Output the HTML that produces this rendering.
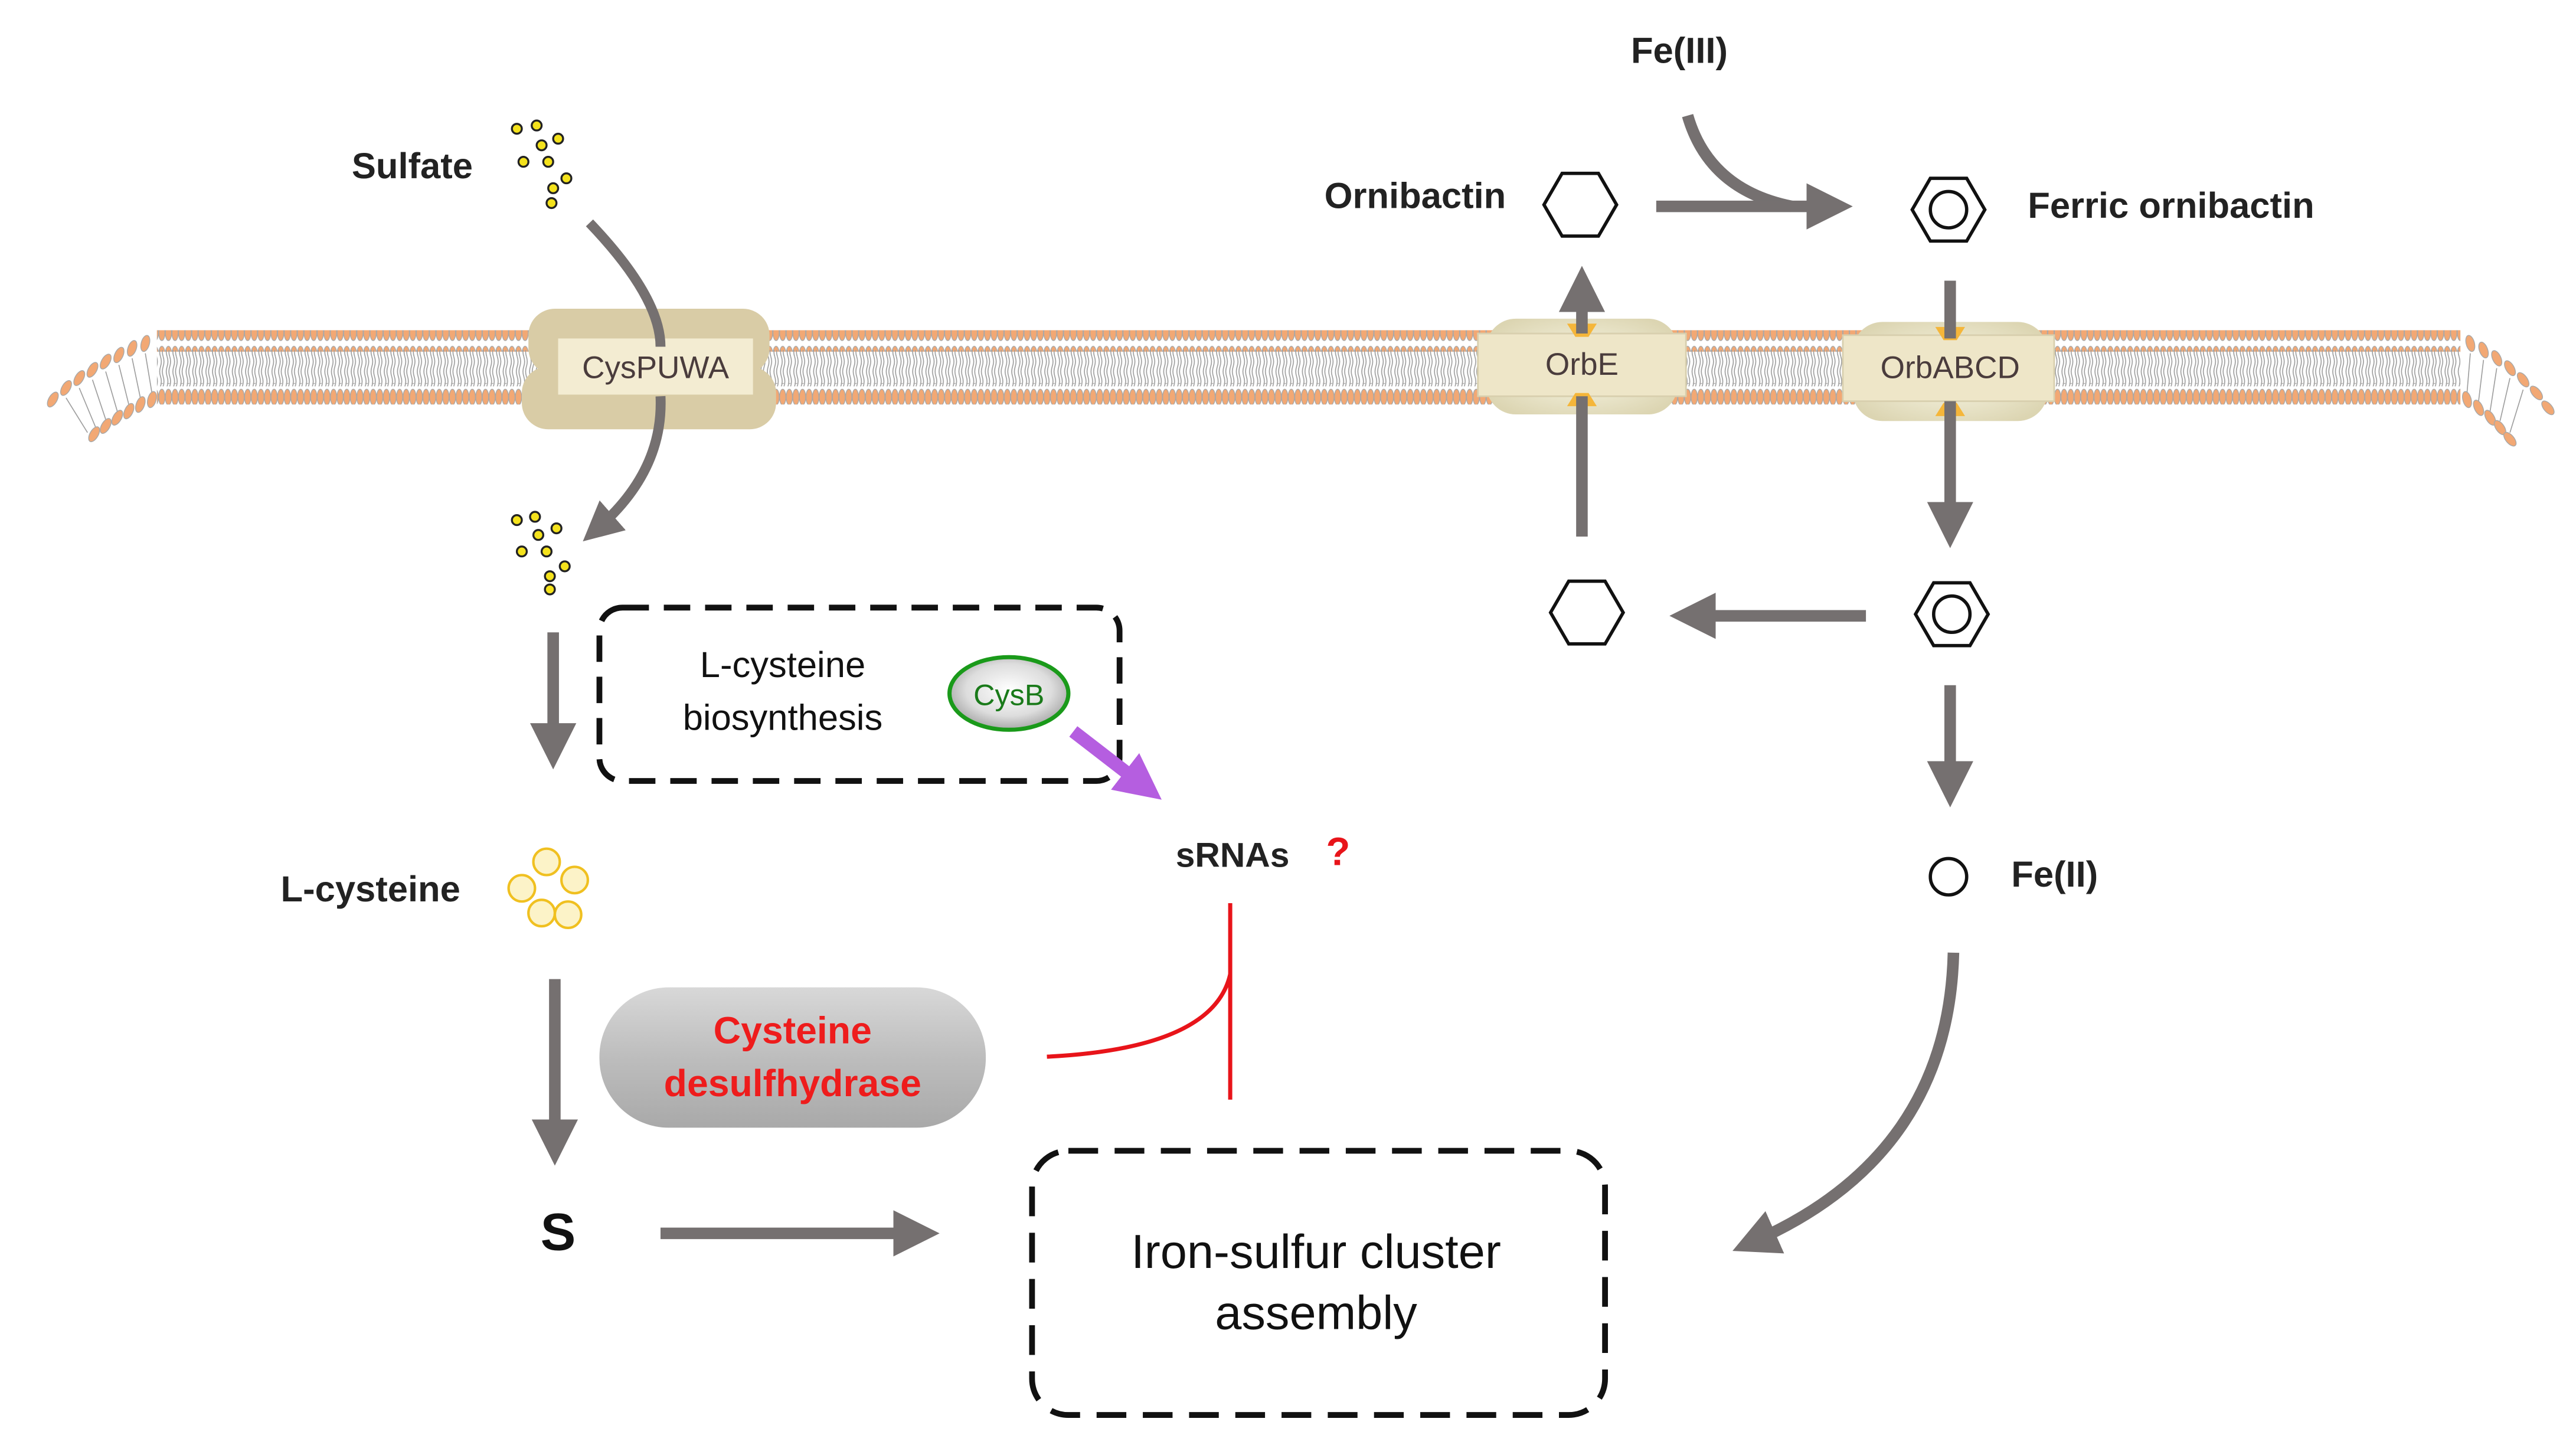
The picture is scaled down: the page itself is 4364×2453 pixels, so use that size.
<!DOCTYPE html>
<html><head><meta charset="utf-8"><style>html,body{margin:0;padding:0;background:#fff}svg{display:block}</style></head>
<body>
<svg width="4364" height="2453" viewBox="0 0 1560 877" preserveAspectRatio="none" xmlns="http://www.w3.org/2000/svg" font-family="Liberation Sans, sans-serif">
<defs>
<pattern id="heads" width="4" height="13" patternUnits="userSpaceOnUse">
<ellipse cx="2" cy="6.5" rx="1.9" ry="4.8" fill="#f2a874" stroke="#a8a8a8" stroke-width="0.5"/>
</pattern>
<pattern id="tails" width="4" height="24" patternUnits="userSpaceOnUse">
<path d="M1.2 0 q1 3 0 6 q-1 3 0 6 q1 3 0 6 q-1 3 0 6 M2.8 0 q1 3 0 6 q-1 3 0 6 q1 3 0 6 q-1 3 0 6" fill="none" stroke="#9f9f9f" stroke-width="0.6"/>
</pattern>
<linearGradient id="gray" x1="0" y1="0" x2="0" y2="1"><stop offset="0" stop-color="#d8d8d8"/><stop offset="0.5" stop-color="#bdbdbd"/><stop offset="1" stop-color="#a9a9a9"/></linearGradient>
<radialGradient id="cysb" cx="0.5" cy="0.45" r="0.6"><stop offset="0" stop-color="#fff"/><stop offset="0.6" stop-color="#ddd"/><stop offset="1" stop-color="#9a9a9a"/></radialGradient>
<radialGradient id="prot" cx="0.5" cy="0.5" r="0.6"><stop offset="0" stop-color="#fbfaea"/><stop offset="1" stop-color="#dcd5b2"/></radialGradient>
<marker id="ah" markerWidth="4" markerHeight="4" refX="2" refY="2" orient="auto" markerUnits="strokeWidth"><path d="M0,0 L4,2 L0,4 z" fill="#757070"/></marker>
<marker id="ap" markerWidth="3.5" markerHeight="3.5" refX="2" refY="1.75" orient="auto" markerUnits="strokeWidth"><path d="M0,0 L3.5,1.75 L0,3.5 z" fill="#b55ee0"/></marker>
</defs>

<!-- membrane -->
<rect x="95" y="200" width="1395" height="13" fill="url(#heads)"/>
<rect x="95" y="212" width="1395" height="22" fill="url(#tails)"/>
<rect x="95" y="232" width="1395" height="13" fill="url(#heads)"/>
<path d="M95 212 L30 245 L55 262 L95 234 Z" fill="#fff" stroke="none"/>
<g stroke="#9f9f9f" stroke-width="0.6">
<line x1="88" y1="214" x2="92" y2="238"/><line x1="80" y1="217" x2="85" y2="241"/><line x1="72" y1="221" x2="78" y2="245"/><line x1="64" y1="225" x2="71" y2="249"/><line x1="56" y1="230" x2="64" y2="254"/><line x1="48" y1="235" x2="58" y2="259"/><line x1="40" y1="241" x2="53" y2="262"/>
<line x1="1496" y1="214" x2="1494" y2="238"/><line x1="1504" y1="218" x2="1501" y2="243"/><line x1="1512" y1="223" x2="1508" y2="249"/><line x1="1520" y1="229" x2="1514" y2="255"/><line x1="1528" y1="236" x2="1520" y2="262"/>
</g>
<g fill="#f2a874" stroke="#a8a8a8" stroke-width="0.5">
<ellipse cx="88" cy="208" rx="2.5" ry="5" transform="rotate(15 88 208)"/><ellipse cx="80" cy="211" rx="2.5" ry="5" transform="rotate(20 80 211)"/><ellipse cx="72" cy="215" rx="2.5" ry="5" transform="rotate(25 72 215)"/><ellipse cx="64" cy="219" rx="2.5" ry="5" transform="rotate(30 64 219)"/><ellipse cx="56" cy="224" rx="2.5" ry="5" transform="rotate(30 56 224)"/><ellipse cx="48" cy="229" rx="2.5" ry="5" transform="rotate(30 48 229)"/><ellipse cx="40" cy="235" rx="2.5" ry="5" transform="rotate(30 40 235)"/><ellipse cx="32" cy="242" rx="2.5" ry="5" transform="rotate(30 32 242)"/>
<ellipse cx="92" cy="242" rx="2.5" ry="5" transform="rotate(15 92 242)"/><ellipse cx="85" cy="245" rx="2.5" ry="5" transform="rotate(20 85 245)"/><ellipse cx="78" cy="249" rx="2.5" ry="5" transform="rotate(25 78 249)"/><ellipse cx="71" cy="253" rx="2.5" ry="5" transform="rotate(30 71 253)"/><ellipse cx="64" cy="258" rx="2.5" ry="5" transform="rotate(30 64 258)"/><ellipse cx="57" cy="263" rx="2.5" ry="5" transform="rotate(30 57 263)"/>
<ellipse cx="1496" cy="208" rx="2.5" ry="5" transform="rotate(-15 1496 208)"/><ellipse cx="1504" cy="212" rx="2.5" ry="5" transform="rotate(-20 1504 212)"/><ellipse cx="1512" cy="217" rx="2.5" ry="5" transform="rotate(-25 1512 217)"/><ellipse cx="1520" cy="223" rx="2.5" ry="5" transform="rotate(-30 1520 223)"/><ellipse cx="1528" cy="230" rx="2.5" ry="5" transform="rotate(-35 1528 230)"/><ellipse cx="1536" cy="238" rx="2.5" ry="5" transform="rotate(-40 1536 238)"/><ellipse cx="1543" cy="247" rx="2.5" ry="5" transform="rotate(-40 1543 247)"/>
<ellipse cx="1494" cy="242" rx="2.5" ry="5" transform="rotate(-15 1494 242)"/><ellipse cx="1501" cy="247" rx="2.5" ry="5" transform="rotate(-25 1501 247)"/><ellipse cx="1508" cy="253" rx="2.5" ry="5" transform="rotate(-30 1508 253)"/><ellipse cx="1514" cy="259" rx="2.5" ry="5" transform="rotate(-35 1514 259)"/><ellipse cx="1520" cy="266" rx="2.5" ry="5" transform="rotate(-40 1520 266)"/>
</g>

<!-- CysPUWA -->
<rect x="320" y="187" width="146" height="40" rx="16" fill="#d9cca6"/>
<rect x="316" y="222" width="154" height="38" rx="16" fill="#d9cca6"/>
<rect x="338" y="205" width="118" height="34" fill="#f3ecd2"/>
<text x="397" y="229" font-size="19" fill="#4a3c3c" text-anchor="middle">CysPUWA</text>
<path d="M357 135 Q400 180 400 210 M400 240 Q402 285 362 320" fill="none" stroke="#757070" stroke-width="6" marker-end="url(#ah)"/>

<!-- OrbE / OrbABCD -->
<rect x="900" y="193" width="116" height="58" rx="18" fill="url(#prot)"/>
<rect x="895" y="202" width="126" height="38" fill="#eee6c8" stroke="#d8cfae"/>
<text x="958" y="227" font-size="19" fill="#4a3c3c" text-anchor="middle">OrbE</text>
<rect x="1122" y="195" width="118" height="60" rx="18" fill="url(#prot)"/>
<rect x="1116" y="203" width="128" height="40" fill="#eee6c8" stroke="#d8cfae"/>
<text x="1181" y="229" font-size="19" fill="#4a3c3c" text-anchor="middle">OrbABCD</text>
<g fill="#f5b63a"><path d="M949 196h18l-5 8h-8z M949 246h18l-5 -8h-8z M1172 198h18l-5 8h-8z M1172 252h18l-5 -8h-8z"/></g>
<line x1="958" y1="325" x2="958" y2="240" stroke="#757070" stroke-width="7"/>
<line x1="958" y1="202" x2="958" y2="175" stroke="#757070" stroke-width="7" marker-end="url(#ah)"/>
<line x1="1181" y1="170" x2="1181" y2="205" stroke="#757070" stroke-width="7"/>
<line x1="1181" y1="243" x2="1181" y2="318" stroke="#757070" stroke-width="7" marker-end="url(#ah)"/>

<!-- Sulfate -->
<text x="213" y="108" font-size="22" font-weight="bold" fill="#222">Sulfate</text>
<g fill="#f4e21c" stroke="#222" stroke-width="1.2">
<circle cx="313" cy="78" r="3"/><circle cx="325" cy="76" r="3"/><circle cx="338" cy="84" r="3"/><circle cx="328" cy="88" r="3"/><circle cx="317" cy="98" r="3"/><circle cx="332" cy="98" r="3"/><circle cx="343" cy="108" r="3"/><circle cx="335" cy="114" r="3"/><circle cx="334" cy="123" r="3"/>
<circle cx="313" cy="315" r="3"/><circle cx="324" cy="313" r="3"/><circle cx="337" cy="320" r="3"/><circle cx="326" cy="324" r="3"/><circle cx="316" cy="334" r="3"/><circle cx="331" cy="334" r="3"/><circle cx="342" cy="343" r="3"/><circle cx="333" cy="349" r="3"/><circle cx="333" cy="357" r="3"/>
</g>
<line x1="335" y1="383" x2="335" y2="452" stroke="#757070" stroke-width="7" marker-end="url(#ah)"/>

<!-- biosynthesis box -->
<rect x="363" y="368" width="315" height="105" rx="14" fill="none" stroke="#111" stroke-width="3.5" stroke-dasharray="16,9"/>
<text x="474" y="410" font-size="22" fill="#111" text-anchor="middle">L-cysteine</text>
<text x="474" y="442" font-size="22" fill="#111" text-anchor="middle">biosynthesis</text>
<ellipse cx="611" cy="420" rx="36" ry="22" fill="url(#cysb)" stroke="#1a9a1a" stroke-width="2.5"/>
<text x="611" y="427" font-size="18" fill="#1a7a1a" text-anchor="middle">CysB</text>
<line x1="650" y1="443" x2="694" y2="477" stroke="#b55ee0" stroke-width="8" marker-end="url(#ap)"/>
<text x="712" y="525" font-size="21" font-weight="bold" fill="#222">sRNAs</text>
<text x="803" y="524" font-size="24" font-weight="bold" fill="#e8141a">?</text>

<!-- L-cysteine -->
<text x="170" y="546" font-size="22" font-weight="bold" fill="#222">L-cysteine</text>
<g fill="#fcf3c8" stroke="#f0c020" stroke-width="1.5">
<circle cx="331" cy="522" r="8"/><circle cx="316" cy="538" r="8"/><circle cx="348" cy="533" r="8"/><circle cx="328" cy="553" r="8"/><circle cx="344" cy="554" r="8"/>
</g>
<line x1="336" y1="593" x2="336" y2="692" stroke="#757070" stroke-width="7" marker-end="url(#ah)"/>
<rect x="363" y="598" width="234" height="85" rx="42" fill="url(#gray)"/>
<text x="480" y="632" font-size="23" font-weight="bold" fill="#ee1c1c" text-anchor="middle">Cysteine</text>
<text x="480" y="664" font-size="23" font-weight="bold" fill="#ee1c1c" text-anchor="middle">desulfhydrase</text>
<text x="338" y="757" font-size="32" font-weight="bold" fill="#111" text-anchor="middle">S</text>
<line x1="400" y1="747" x2="555" y2="747" stroke="#757070" stroke-width="7" marker-end="url(#ah)"/>

<!-- red inhibition -->
<path d="M634 640 Q735 635 745 590" fill="none" stroke="#e8141a" stroke-width="2.5"/>
<line x1="745" y1="547" x2="745" y2="666" stroke="#e8141a" stroke-width="2.5"/>

<!-- Fe-S box -->
<rect x="625" y="697" width="347" height="160" rx="22" fill="none" stroke="#111" stroke-width="3.5" stroke-dasharray="18,10"/>
<text x="797" y="768" font-size="29" fill="#111" text-anchor="middle">Iron-sulfur cluster</text>
<text x="797" y="805" font-size="29" fill="#111" text-anchor="middle">assembly</text>

<!-- Right side -->
<text x="1017" y="38" font-size="22" font-weight="bold" fill="#222" text-anchor="middle">Fe(III)</text>
<text x="912" y="126" font-size="22" font-weight="bold" fill="#222" text-anchor="end">Ornibactin</text>
<text x="1228" y="132" font-size="22" font-weight="bold" fill="#222">Ferric ornibactin</text>
<path d="M1022 70 Q1035 115 1085 125" fill="none" stroke="#757070" stroke-width="7"/>
<line x1="1003" y1="125" x2="1108" y2="125" stroke="#757070" stroke-width="7" marker-end="url(#ah)"/>
<g fill="none" stroke="#111" stroke-width="2">
<polygon points="946,105 968,105 979,124 968,143 946,143 935,124"/>
<polygon points="1169,108 1191,108 1202,127 1191,146 1169,146 1158,127"/><circle cx="1180" cy="127" r="11"/>
<polygon points="950,352 972,352 983,371 972,390 950,390 939,371"/>
<polygon points="1171,353 1193,353 1204,372 1193,391 1171,391 1160,372"/><circle cx="1182" cy="372" r="11"/>
<circle cx="1180" cy="531" r="11"/>
</g>
<line x1="1130" y1="373" x2="1025" y2="373" stroke="#757070" stroke-width="7" marker-end="url(#ah)"/>
<line x1="1181" y1="415" x2="1181" y2="475" stroke="#757070" stroke-width="7" marker-end="url(#ah)"/>
<text x="1218" y="537" font-size="22" font-weight="bold" fill="#222">Fe(II)</text>
<path d="M1183 577 Q1180 700 1062 752" fill="none" stroke="#757070" stroke-width="7" marker-end="url(#ah)"/>
</svg>
</body></html>
